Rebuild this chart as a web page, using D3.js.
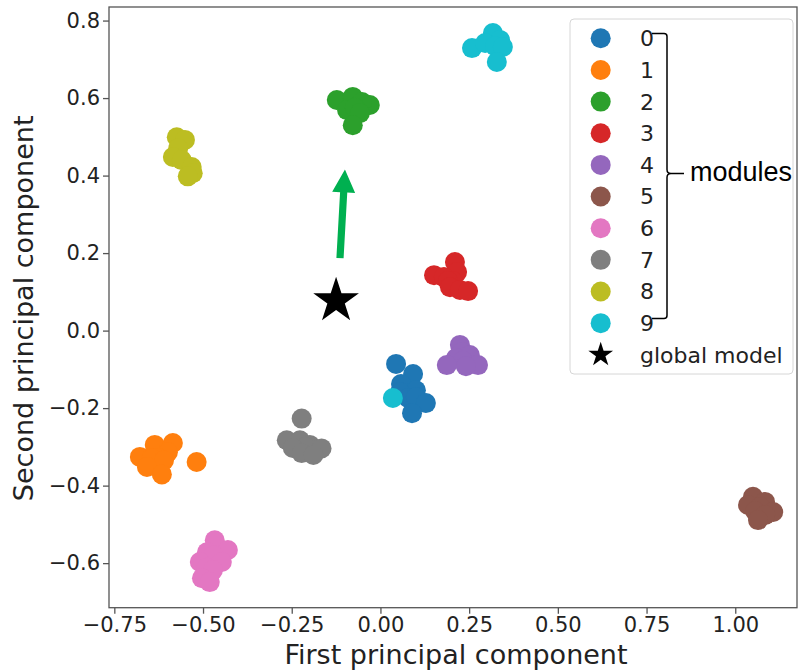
<!DOCTYPE html>
<html>
<head>
<meta charset="utf-8">
<script src="https://cdn.jsdelivr.net/npm/d3@7"></script>
<style>
  html, body { margin: 0; padding: 0; background: #fff; }
  svg { display: block; }
</style>
</head>
<body>
<script>
// ---- data ----
const moduleLabels = ["0","1","2","3","4","5","6","7","8","9"];
const moduleColors = ["#1f77b4","#ff7f0e","#2ca02c","#d62728","#9467bd","#8c564b","#e377c2","#7f7f7f","#bcbd22","#17becf"];

const module0 = [[0.044,-0.086],[0.092,-0.112],[0.058,-0.138],[0.100,-0.154],[0.055,-0.159],[0.078,-0.174],[0.100,-0.172],[0.128,-0.187],[0.089,-0.213]];
const module1 = [[-0.678,-0.326],[-0.636,-0.295],[-0.585,-0.290],[-0.599,-0.314],[-0.627,-0.329],[-0.645,-0.330],[-0.610,-0.335],[-0.658,-0.352],[-0.616,-0.371],[-0.518,-0.339]];
const module2 = [[-0.123,0.595],[-0.078,0.603],[-0.030,0.582],[-0.052,0.590],[-0.094,0.569],[-0.072,0.575],[-0.058,0.561],[-0.078,0.530]];
const module3 = [[0.210,0.177],[0.216,0.151],[0.151,0.143],[0.179,0.138],[0.204,0.128],[0.190,0.128],[0.196,0.112],[0.224,0.105],[0.247,0.102]];
const module4 = [[0.224,-0.037],[0.230,-0.055],[0.252,-0.063],[0.213,-0.071],[0.232,-0.078],[0.187,-0.089],[0.275,-0.089],[0.241,-0.092]];
const module5 = [[1.050,-0.429],[1.036,-0.450],[1.084,-0.442],[1.070,-0.455],[1.056,-0.466],[1.107,-0.468],[1.084,-0.476],[1.064,-0.489]];
const module6 = [[-0.467,-0.541],[-0.430,-0.566],[-0.489,-0.572],[-0.470,-0.580],[-0.509,-0.597],[-0.447,-0.597],[-0.490,-0.612],[-0.472,-0.618],[-0.503,-0.639],[-0.481,-0.649]];
const module7 = [[-0.222,-0.227],[-0.264,-0.283],[-0.227,-0.283],[-0.199,-0.295],[-0.212,-0.300],[-0.247,-0.303],[-0.166,-0.304],[-0.222,-0.316],[-0.189,-0.321]];
const module8 = [[-0.574,0.499],[-0.551,0.492],[-0.570,0.470],[-0.585,0.448],[-0.560,0.440],[-0.532,0.422],[-0.529,0.406],[-0.543,0.398]];
const module9 = [[0.258,0.729],[0.317,0.768],[0.337,0.750],[0.295,0.742],[0.323,0.734],[0.345,0.732],[0.328,0.693],[0.035,-0.174]];
const modules = [module0,module1,module2,module3,module4,module5,module6,module7,module8,module9];

const globalModel = [-0.125, 0.077];
const arrowFrom = [-0.114, 0.187];
const arrowTo = [-0.100, 0.416];

const xTicks = [-0.75,-0.5,-0.25,0,0.25,0.5,0.75,1.0];
const yTicks = [-0.6,-0.4,-0.2,0,0.2,0.4,0.6,0.8];
const xDomain = [-0.765, 1.174];
const yDomain = [-0.715, 0.835];

// ---- layout ----
const W = 798, H = 671;
const plot = {left: 109, right: 797, top: 7, bottom: 607.7};
const fontMain = "'DejaVu Sans', sans-serif";

const svg = d3.select("body").append("svg").attr("width", W).attr("height", H);

const x = d3.scaleLinear().domain(xDomain).range([plot.left, plot.right]);
const y = d3.scaleLinear().domain(yDomain).range([plot.bottom, plot.top]);
const fmtMinus = f => s => f(s).replace("-", "\u2212");

// axes
const xAxis = d3.axisBottom(x).tickValues(xTicks).tickFormat(fmtMinus(d3.format(".2f"))).tickSize(6).tickSizeOuter(0).tickPadding(3);
const yAxis = d3.axisLeft(y).tickValues(yTicks).tickFormat(fmtMinus(d3.format(".1f"))).tickSize(6).tickSizeOuter(0).tickPadding(3);

const gx = svg.append("g").attr("transform", `translate(0,${plot.bottom})`).call(xAxis);
const gy = svg.append("g").attr("transform", `translate(${plot.left},0)`).call(yAxis);
[gx, gy].forEach(g => {
  g.select(".domain").remove();
  g.selectAll(".tick line").attr("stroke", "#555").attr("stroke-width", 1.3);
  g.selectAll(".tick text").attr("fill", "#222").style("font-family", fontMain).style("font-size", "21px");
});

// frame
svg.append("rect")
  .attr("x", plot.left).attr("y", plot.top)
  .attr("width", plot.right - plot.left).attr("height", plot.bottom - plot.top)
  .attr("fill", "none").attr("stroke", "#555").attr("stroke-width", 1.3);

// axis titles
svg.append("text")
  .attr("x", (plot.left + plot.right) / 2 + 3).attr("y", 664)
  .attr("text-anchor", "middle").attr("fill", "#222")
  .style("font-family", fontMain).style("font-size", "27px")
  .text("First principal component");
svg.append("text")
  .attr("transform", `translate(33,${(plot.top + plot.bottom) / 2 + 1}) rotate(-90)`)
  .attr("text-anchor", "middle").attr("fill", "#222")
  .style("font-family", fontMain).style("font-size", "27px")
  .text("Second principal component");

// scatter points
const pts = svg.append("g");
modules.forEach((pts_i, i) => {
  pts.selectAll(null).data(pts_i).enter().append("circle")
    .attr("cx", d => x(d[0])).attr("cy", d => y(d[1]))
    .attr("r", 10).attr("fill", moduleColors[i]);
});

// global model star
const starOuter = 24;
svg.append("path")
  .attr("d", d3.symbol(d3.symbolStar, starOuter * starOuter / 0.8908130915292852)())
  .attr("transform", `translate(${x(globalModel[0])},${y(globalModel[1])})`)
  .attr("fill", "#000");

// green arrow
(function () {
  const x0 = x(arrowFrom[0]), y0 = y(arrowFrom[1]);
  const x1 = x(arrowTo[0]), y1 = y(arrowTo[1]);
  const dx = x1 - x0, dy = y1 - y0, L = Math.hypot(dx, dy);
  const ux = dx / L, uy = dy / L, nx = -uy, ny = ux;
  const sw = 3.6, hw = 11.5, hl = 23;
  const bx = x1 - ux * hl, by = y1 - uy * hl;
  const p = [
    [x0 + nx * sw, y0 + ny * sw],
    [bx + nx * sw, by + ny * sw],
    [bx + nx * hw, by + ny * hw],
    [x1, y1],
    [bx - nx * hw, by - ny * hw],
    [bx - nx * sw, by - ny * sw],
    [x0 - nx * sw, y0 - ny * sw]
  ];
  svg.append("path").attr("d", "M" + p.map(q => q.join(",")).join("L") + "Z").attr("fill", "#00b050");
})();

// legend
const leg = svg.append("g");
leg.append("rect").attr("x", 570).attr("y", 19).attr("width", 223).attr("height", 355)
  .attr("rx", 4).attr("fill", "rgba(255,255,255,0.85)").attr("stroke", "#d6d6d6").attr("stroke-width", 1);
const rowY0 = 38.3, rowStep = 31.65;
moduleLabels.forEach((lab, i) => {
  const cy = rowY0 + i * rowStep;
  leg.append("circle").attr("cx", 600.7).attr("cy", cy).attr("r", 10).attr("fill", moduleColors[i]);
  leg.append("text").attr("x", 640).attr("y", cy).attr("dy", "0.36em")
    .attr("fill", "#222").style("font-family", fontMain).style("font-size", "22px").text(lab);
});
const gmY = rowY0 + 10 * rowStep;
leg.append("path")
  .attr("d", d3.symbol(d3.symbolStar, 13 * 13 / 0.8908130915292852)())
  .attr("transform", `translate(600.7,${gmY})`).attr("fill", "#000");
leg.append("text").attr("x", 640).attr("y", gmY).attr("dy", "0.36em")
  .attr("fill", "#222").style("font-family", fontMain).style("font-size", "22px").text("global model");

// "modules" brace
const braceTop = 33.5, braceBot = 318.5, braceMid = 173.5, bx = 667;
svg.append("path")
  .attr("d", `M652,${braceTop} L${bx - 3},${braceTop} Q${bx},${braceTop} ${bx},${braceTop + 3}
              L${bx},${braceMid - 4} Q${bx},${braceMid} ${bx + 4},${braceMid}
              Q${bx},${braceMid} ${bx},${braceMid + 4}
              L${bx},${braceBot - 3} Q${bx},${braceBot} ${bx - 3},${braceBot} L652,${braceBot}
              M${bx + 4},${braceMid} L684,${braceMid}`)
  .attr("fill", "none").attr("stroke", "#000").attr("stroke-width", 1.5);
svg.append("text").attr("x", 690).attr("y", 181)
  .attr("fill", "#000").style("font-family", "'Liberation Sans', Arial, sans-serif").style("font-size", "27px")
  .text("modules");
</script>
</body>
</html>
